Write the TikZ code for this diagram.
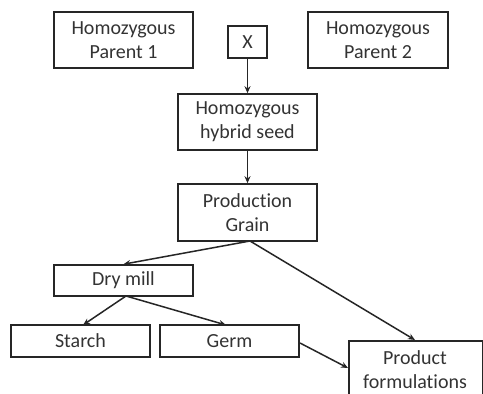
\documentclass[tikz,border=0pt]{standalone}
\usepackage{fontspec}
\setmainfont[Ligatures=NoCommon]{Carlito}
\usetikzlibrary{arrows.meta}
\begin{document}
\begin{tikzpicture}[x=1pt,y=-1pt,
  txt/.style={font=\fontsize{20}{24}\selectfont,text=black!80},
  box/.style={txt,draw=black!85,line width=1.6pt,inner sep=0pt,align=center},
  arr/.style={draw=black!85,line width=1.5pt,-{Stealth[length=7pt,width=6pt]}}]
\useasboundingbox (0,0) rectangle (483,394);
\clip (0,0) rectangle (483,394);
\node[box,minimum width=139pt,minimum height=56pt] (p1) at (123.5,40) {Homozygous\\Parent 1};
\node[box,minimum width=39pt,minimum height=32pt] (x) at (247.5,42) {X};
\node[box,minimum width=140pt,minimum height=56pt] (p2) at (378,40) {Homozygous\\Parent 2};
\node[box,minimum width=139pt,minimum height=56pt] (hs) at (247.5,122) {Homozygous\\hybrid seed};
\node[box,minimum width=139pt,minimum height=57pt] (pg) at (247.5,212.5) {Production\\Grain};
\node[box,minimum width=139pt,minimum height=31pt] (dm) at (123.5,280.5) {Dry mill};
\node[box,minimum width=139pt,minimum height=32pt] (st) at (80.5,341) {Starch};
\node[box,minimum width=139pt,minimum height=32pt] (gm) at (229.5,341) {Germ};
\node[box,minimum width=134pt,minimum height=70pt,anchor=north west] (pf) at (348,340) {};
\node[txt,align=center] (pft) at (415,370) {Product\\formulations};
\draw[arr] (x.south) -- (hs.north);
\draw[arr] (hs.south) -- (pg.north);
\coordinate (pgb) at (250,241);
\draw[arr] (pgb) -- (dm.north);
\coordinate (pfn) at (415,340);
\draw[arr] (pgb) -- (pfn);
\coordinate (dmb) at (126,296);
\draw[arr] (dmb) -- (83,325);
\draw[arr] (dmb) -- (226,325);
\coordinate (gmr) at (300,343);
\coordinate (pfw) at (348,368);
\draw[arr] (gmr) -- (pfw);
\end{tikzpicture}
\end{document}
